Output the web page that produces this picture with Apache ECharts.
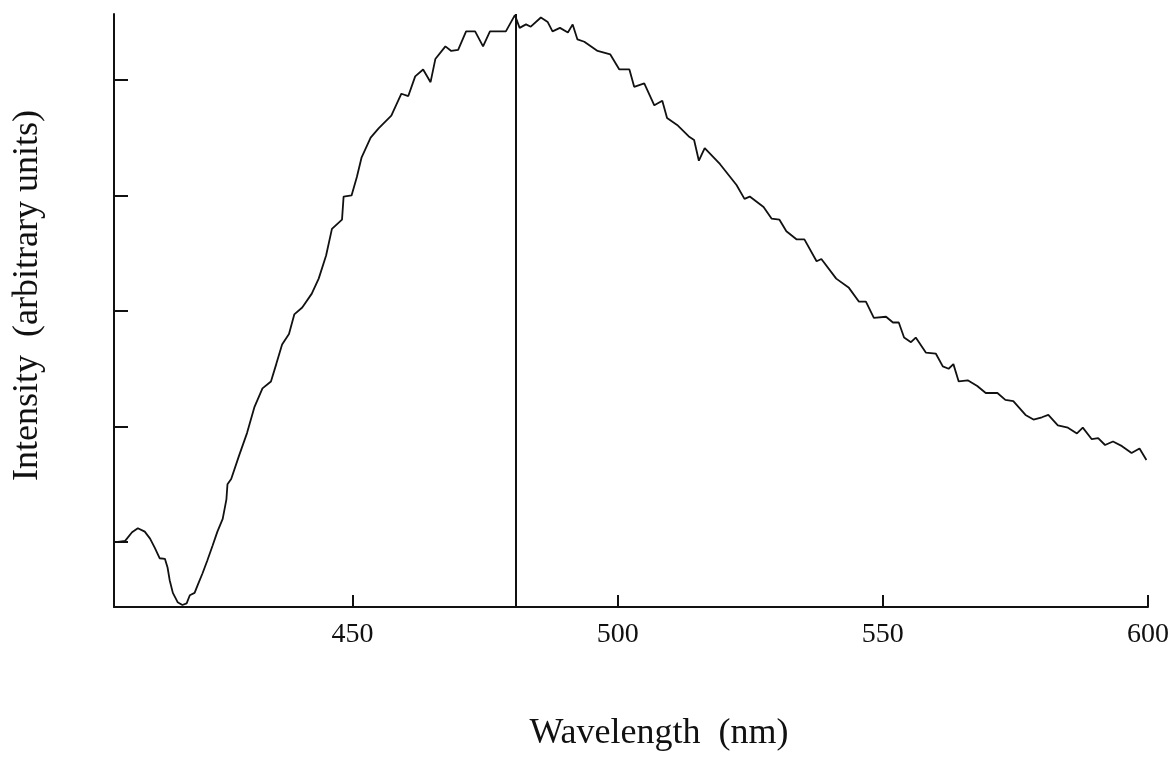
<!DOCTYPE html>
<html>
<head>
<meta charset="utf-8">
<title>Emission spectrum</title>
<script src="https://cdn.jsdelivr.net/npm/echarts@6/dist/echarts.min.js"></script>
<style>
  html, body { margin: 0; padding: 0; background: #fff; }
  #chart { width: 1172px; height: 757px; }
</style>
</head>
<body>
<div id="chart"></div>
<script>
// wavelength (nm)
var wavelength = [
  405.4, 407.1, 408.4, 409.5, 410.8, 411.8, 412.7, 413.6, 414.6, 415.1,
  415.5, 416.1, 417.0, 417.9, 418.7, 419.3, 420.2, 420.8, 421.7, 422.6,
  423.6, 424.5, 425.5, 426.2, 426.4, 427.1, 428.6, 430.1, 431.5, 433.0,
  434.6, 435.6, 436.7, 438.0, 439.0, 440.5, 442.3, 443.6, 445.0, 446.1,
  448.0, 448.3, 449.8, 450.8, 451.7, 453.4, 454.9, 457.3, 459.2, 460.5,
  461.8, 463.3, 464.7, 465.6, 467.5, 468.6, 469.9, 471.4, 473.1, 474.6,
  475.9, 478.9, 480.6, 480.8, 481.5, 482.7, 483.6, 485.5, 486.8, 487.7,
  489.1, 490.6, 491.5, 492.4, 493.7, 496.2, 498.6, 500.3, 502.2, 503.1,
  505.0, 506.9, 508.4, 509.3, 511.2, 513.4, 514.4, 515.3, 516.4, 519.3,
  522.4, 523.9, 524.9, 527.5, 529.0, 530.5, 531.8, 533.7, 535.2, 537.5,
  538.4, 541.2, 543.6, 545.5, 546.8, 548.3, 550.6, 551.9, 553.0, 554.0,
  555.3, 556.2, 558.1, 560.0, 561.3, 562.4, 563.3, 564.3, 566.0, 567.8,
  569.4, 571.6, 573.1, 574.6, 576.9, 578.4, 580.0, 581.2, 583.0, 584.9,
  586.6, 587.7, 589.4, 590.6, 591.9, 593.4, 595.1, 596.9, 598.4, 599.7
];

// intensity (arbitrary units, one unit per tick mark)
var intensity = [
  1.00, 1.01, 1.085, 1.12, 1.09, 1.03, 0.95, 0.86, 0.855, 0.78,
  0.67, 0.56, 0.48, 0.455, 0.47, 0.54, 0.56, 0.63, 0.73, 0.84,
  0.97, 1.09, 1.20, 1.37, 1.50, 1.545, 1.75, 1.945, 2.17, 2.33,
  2.39, 2.54, 2.71, 2.80, 2.97, 3.03, 3.15, 3.28, 3.48, 3.71,
  3.79, 3.99, 4.00, 4.16, 4.33, 4.50, 4.58, 4.69, 4.88, 4.86,
  5.03, 5.09, 4.98, 5.18, 5.29, 5.25, 5.26, 5.42, 5.42, 5.29,
  5.42, 5.42, 5.56, 5.57, 5.45, 5.48, 5.46, 5.54, 5.50, 5.42,
  5.45, 5.41, 5.48, 5.35, 5.33, 5.25, 5.22, 5.09, 5.09, 4.94,
  4.97, 4.78, 4.82, 4.67, 4.61, 4.51, 4.48, 4.30, 4.41, 4.27,
  4.09, 3.97, 3.99, 3.90, 3.80, 3.79, 3.69, 3.62, 3.62, 3.43,
  3.45, 3.28, 3.20, 3.08, 3.08, 2.94, 2.95, 2.90, 2.90, 2.77,
  2.73, 2.77, 2.64, 2.63, 2.52, 2.50, 2.54, 2.39, 2.40, 2.35,
  2.29, 2.29, 2.23, 2.22, 2.10, 2.06, 2.08, 2.10, 2.01, 1.99,
  1.94, 1.99, 1.89, 1.90, 1.84, 1.87, 1.83, 1.77, 1.81, 1.71
];

// axis ticks
var xTicks = [450, 500, 550, 600];
var yTicks = [1, 2, 3, 4, 5];

// the sharp line drawn at the maximum
var peakLine = 480.8;

var chart = echarts.init(document.getElementById('chart'), null, { renderer: 'canvas' });

var points = [];
for (var i = 0; i < wavelength.length; i++) {
  points.push([wavelength[i], intensity[i]]);
}

var serif = '"Liberation Serif", "DejaVu Serif", serif';

var option = {
  animation: false,
  backgroundColor: '#ffffff',
  grid: { left: 114, right: 20, top: 14, bottom: 140, containLabel: false },
  xAxis: {
    type: 'value',
    min: 405,
    max: 600,
    name: 'Wavelength  (nm)',
    nameLocation: 'middle',
    nameGap: 109,
    nameTextStyle: { fontFamily: serif, fontSize: 36, color: '#111', padding: [0, 0, 0, 56] },
    axisLine: { show: true, onZero: false, lineStyle: { color: '#111', width: 2 } },
    axisTick: { show: true, inside: true, length: 12, customValues: xTicks, lineStyle: { color: '#111', width: 2 } },
    axisLabel: { customValues: xTicks, margin: 14, fontFamily: serif, fontSize: 28, color: '#111' },
    splitLine: { show: false }
  },
  yAxis: {
    type: 'value',
    min: 0.438,
    max: 5.57,
    name: 'Intensity  (arbitrary units)',
    nameLocation: 'middle',
    nameGap: 68,
    nameTextStyle: { fontFamily: serif, fontSize: 36, color: '#111', padding: [0, 0, 0, 30] },
    axisLine: { show: true, onZero: false, lineStyle: { color: '#111', width: 2 } },
    axisTick: { show: true, inside: true, length: 14, customValues: yTicks, lineStyle: { color: '#111', width: 2 } },
    axisLabel: { show: false },
    splitLine: { show: false }
  },
  series: [
    {
      name: 'spectrum',
      type: 'line',
      data: points,
      showSymbol: false,
      smooth: false,
      lineStyle: { color: '#111', width: 1.8 },
      markLine: {
        silent: true,
        symbol: ['none', 'none'],
        label: { show: false },
        lineStyle: { color: '#111', width: 2, type: 'solid' },
        data: [{ xAxis: peakLine }]
      }
    }
  ]
};

chart.setOption(option);
</script>
</body>
</html>
